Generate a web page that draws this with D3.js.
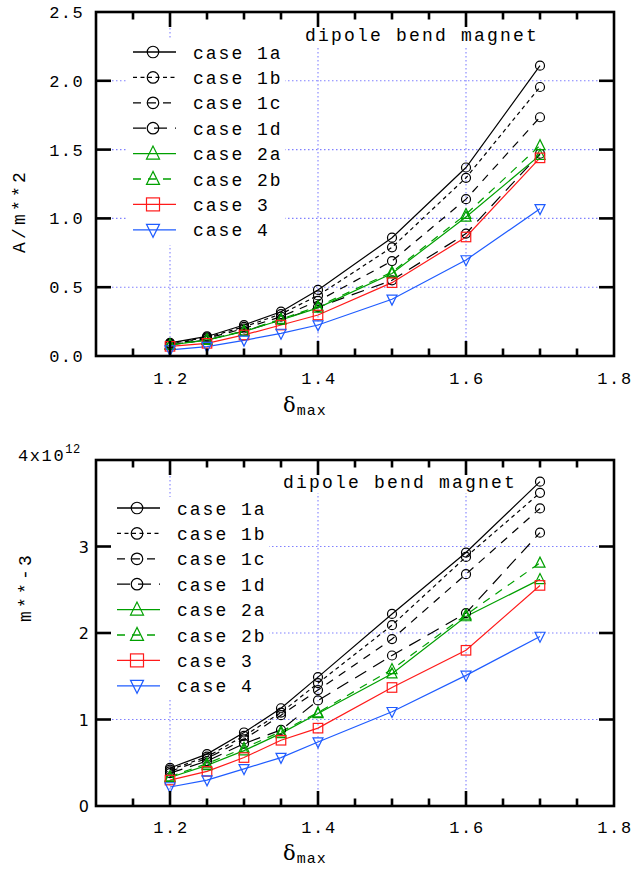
<!DOCTYPE html>
<html><head><meta charset="utf-8">
<script src="https://cdn.jsdelivr.net/npm/d3@7/dist/d3.min.js"></script>
<style>body{margin:0;background:#fff}svg{display:block}</style>
</head><body>
<script>
// ---------- data ----------
const xValues = [1.2, 1.25, 1.3, 1.35, 1.4, 1.5, 1.6, 1.7];
const seriesNames = ["case 1a", "case 1b", "case 1c", "case 1d", "case 2a", "case 2b", "case 3", "case 4"];

// top chart: A/m**2
const topCase1a = [0.095, 0.142, 0.225, 0.322, 0.480, 0.860, 1.370, 2.110];
const topCase1b = [0.090, 0.135, 0.212, 0.305, 0.440, 0.790, 1.295, 1.955];
const topCase1c = [0.086, 0.128, 0.200, 0.286, 0.400, 0.690, 1.140, 1.735];
const topCase1d = [0.080, 0.118, 0.180, 0.262, 0.355, 0.550, 0.890, 1.470];
const topCase2a = [0.080, 0.115, 0.178, 0.262, 0.350, 0.600, 1.010, 1.460];
const topCase2b = [0.082, 0.118, 0.182, 0.268, 0.360, 0.610, 1.030, 1.530];
const topCase3  = [0.070, 0.092, 0.153, 0.225, 0.298, 0.533, 0.865, 1.440];
const topCase4  = [0.044, 0.068, 0.114, 0.164, 0.225, 0.412, 0.698, 1.070];

// bottom chart: m**-3 (units of 1e12)
const bottomCase1a = [0.44, 0.60, 0.85, 1.13, 1.49, 2.22, 2.93, 3.75];
const bottomCase1b = [0.42, 0.57, 0.81, 1.08, 1.42, 2.09, 2.88, 3.62];
const bottomCase1c = [0.40, 0.55, 0.77, 1.05, 1.34, 1.93, 2.68, 3.44];
const bottomCase1d = [0.38, 0.52, 0.72, 0.88, 1.22, 1.74, 2.23, 3.16];
const bottomCase2a = [0.33, 0.47, 0.64, 0.84, 1.07, 1.53, 2.19, 2.62];
const bottomCase2b = [0.34, 0.49, 0.67, 0.86, 1.08, 1.58, 2.21, 2.81];
const bottomCase3  = [0.30, 0.40, 0.56, 0.76, 0.90, 1.37, 1.80, 2.55];
const bottomCase4  = [0.22, 0.30, 0.43, 0.56, 0.74, 1.09, 1.51, 1.96];

const xMajorTicks = [1.2, 1.4, 1.6, 1.8];
const xMajorTickLabels = ["1.2", "1.4", "1.6", "1.8"];
const xMinorTicks = [1.15, 1.25, 1.3, 1.35, 1.45, 1.5, 1.55, 1.65, 1.7, 1.75];
const topYTicks = [0, 0.5, 1.0, 1.5, 2.0, 2.5];
const topYTickLabels = ["0.0", "0.5", "1.0", "1.5", "2.0", "2.5"];
const bottomYTicks = [0, 1, 2, 3, 4];
const bottomYTickLabels = ["0", "1", "2", "3", "4x10"];
const titleText = "dipole bend magnet";
const xLabelMain = "δ", xLabelSub = "max";

// ---------- styles ----------
const BLACK = "#000", GREEN = "#00a000", RED = "#ff1a1a", BLUE = "#1f5cff";
const seriesStyles = [
  {color: BLACK, dash: null,   marker: "circle"},
  {color: BLACK, dash: "4,3.5", marker: "circle"},
  {color: BLACK, dash: "8,7",  marker: "circle"},
  {color: BLACK, dash: "13,8", marker: "circle"},
  {color: GREEN, dash: null,   marker: "triUp"},
  {color: GREEN, dash: "8,7",  marker: "triUp"},
  {color: RED,   dash: null,   marker: "square"},
  {color: BLUE,  dash: null,   marker: "triDown"}
];
const MONO = "'Liberation Mono','DejaVu Sans Mono',monospace";

const W = 634, H = 869;
const svg = d3.select("body").append("svg").attr("width", W).attr("height", H);

function marker(g, type, cx, cy, s, color) {
  const sw = 1.2;
  if (type === "circle") {
    g.append("circle").attr("cx", cx).attr("cy", cy).attr("r", s / 2)
      .attr("fill", "none").attr("stroke", color).attr("stroke-width", sw);
  } else if (type === "square") {
    g.append("rect").attr("x", cx - s / 2).attr("y", cy - s / 2).attr("width", s).attr("height", s)
      .attr("fill", "none").attr("stroke", color).attr("stroke-width", sw);
  } else {
    const up = type === "triUp" ? 1 : -1;
    const hw = s / 2, top = cy - up * s * 0.58, base = cy + up * s * 0.42;
    g.append("path").attr("d", `M${cx},${top}L${cx - hw},${base}L${cx + hw},${base}Z`)
      .attr("fill", "none").attr("stroke", color).attr("stroke-width", sw);
  }
}

function drawChart(cfg) {
  const x = d3.scaleLinear().domain([1.1, 1.8]).range([96, 614]);
  const y = d3.scaleLinear().domain(cfg.yDomain).range([cfg.yBottom, cfg.yTop]);
  const g = svg.append("g");

  // grid
  const grid = g.append("g").attr("stroke", "#8080ff").attr("stroke-width", 1.1).attr("stroke-dasharray", "1.5,2.5");
  xMajorTicks.filter(t => t < 1.8).forEach(t =>
    grid.append("line").attr("x1", x(t)).attr("x2", x(t)).attr("y1", cfg.yTop).attr("y2", cfg.yBottom));
  cfg.yTicks.filter(t => t > cfg.yDomain[0] && t < cfg.yDomain[1]).forEach(t =>
    grid.append("line").attr("x1", 96).attr("x2", 614).attr("y1", y(t)).attr("y2", y(t)));

  // white boxes for legend and title
  g.append("rect").attr("x", cfg.legendBox[0]).attr("y", cfg.legendBox[1])
    .attr("width", cfg.legendBox[2]).attr("height", cfg.legendBox[3]).attr("fill", "#fff");
  g.append("rect").attr("x", cfg.titleBox[0]).attr("y", cfg.titleBox[1])
    .attr("width", cfg.titleBox[2]).attr("height", cfg.titleBox[3]).attr("fill", "#fff");

  // data lines
  const line = d3.line().x((d, i) => x(xValues[i])).y(d => y(d));
  cfg.series.forEach((vals, k) => {
    const st = seriesStyles[k];
    g.append("path").attr("d", line(vals)).attr("fill", "none").attr("stroke", st.color)
      .attr("stroke-width", 1.2).attr("stroke-dasharray", st.dash);
  });
  cfg.series.forEach((vals, k) => {
    const st = seriesStyles[k];
    const s = st.marker === "circle" ? 9 : (st.marker === "square" ? 9.5 : 10);
    vals.forEach((v, i) => marker(g, st.marker, x(xValues[i]), y(v), s, st.color));
  });

  // legend
  seriesNames.forEach((name, k) => {
    const st = seriesStyles[k];
    const ly = cfg.legendY + k * 25.4;
    g.append("line").attr("x1", cfg.legendX).attr("x2", cfg.legendX + 43).attr("y1", ly).attr("y2", ly)
      .attr("stroke", st.color).attr("stroke-width", 1.3).attr("stroke-dasharray", st.dash);
    const s = st.marker === "circle" ? 11.5 : 13;
    marker(g, st.marker, cfg.legendX + 20, ly, s, st.color);
    g.append("text").attr("x", cfg.legendX + 60).attr("y", ly + 6.5).text(name)
      .attr("font-family", MONO).attr("font-size", 18).attr("letter-spacing", 2).attr("fill", "#000");
  });

  // title
  g.append("text").attr("x", cfg.titleX).attr("y", cfg.titleY).text(titleText)
    .attr("font-family", MONO).attr("font-size", 18).attr("letter-spacing", 2.2).attr("fill", "#000");

  // frame + ticks
  const ax = g.append("g").attr("stroke", "#000").attr("stroke-width", 2.6);
  ax.append("rect").attr("x", 96).attr("y", cfg.yTop).attr("width", 518).attr("height", cfg.yBottom - cfg.yTop)
    .attr("fill", "none");
  xMajorTicks.filter(t => t < 1.8).forEach(t => {
    ax.append("line").attr("x1", x(t)).attr("x2", x(t)).attr("y1", cfg.yBottom).attr("y2", cfg.yBottom - 15);
    ax.append("line").attr("x1", x(t)).attr("x2", x(t)).attr("y1", cfg.yTop).attr("y2", cfg.yTop + 15);
  });
  xMinorTicks.forEach(t => {
    ax.append("line").attr("x1", x(t)).attr("x2", x(t)).attr("y1", cfg.yBottom).attr("y2", cfg.yBottom - 7.5);
    ax.append("line").attr("x1", x(t)).attr("x2", x(t)).attr("y1", cfg.yTop).attr("y2", cfg.yTop + 7.5);
  });
  cfg.yTicks.filter(t => t > cfg.yDomain[0] && t < cfg.yDomain[1]).forEach(t => {
    ax.append("line").attr("x1", 96).attr("x2", 111).attr("y1", y(t)).attr("y2", y(t));
    ax.append("line").attr("x1", 614).attr("x2", 599).attr("y1", y(t)).attr("y2", y(t));
  });

  // x tick labels
  xMajorTicks.forEach((t, i) => {
    g.append("text").attr("x", x(t) + 1).attr("y", cfg.xTickLabelY).attr("text-anchor", "middle")
      .text(xMajorTickLabels[i]).attr("font-family", MONO).attr("font-size", 17).attr("letter-spacing", 1.6);
  });
  // y tick labels
  cfg.yTicks.forEach((t, i) => {
    const lab = cfg.yTickLabels[i];
    if (cfg.sup && i === cfg.yTicks.length - 1) {
      const tx = g.append("text").attr("x", 18).attr("y", y(t) + 1).attr("font-family", MONO)
        .attr("font-size", 17).attr("letter-spacing", 1.6);
      tx.append("tspan").text(lab);
      tx.append("tspan").text(cfg.sup).attr("font-size", 12).attr("dy", -8).attr("letter-spacing", 0.5);
    } else {
      g.append("text").attr("x", cfg.yLabelRight).attr("y", y(t) + 6).attr("text-anchor", "end")
        .text(lab).attr("font-family", cfg.yTickFont).attr("font-size", cfg.yTickSize)
        .attr("letter-spacing", cfg.yTickSpacing);
    }
  });

  // axis labels
  const xl = g.append("text").attr("x", 283).attr("y", cfg.xLabelY);
  xl.append("tspan").text(xLabelMain).attr("font-family", "'DejaVu Serif',serif").attr("font-size", 21);
  xl.append("tspan").text(xLabelSub).attr("font-family", MONO).attr("font-size", 15).attr("dy", 2.5)
    .attr("dx", 1).attr("letter-spacing", 1);
  g.append("text").attr("transform", `translate(${cfg.yLabelPos[0]},${cfg.yLabelPos[1]}) rotate(-90)`)
    .attr("text-anchor", "middle").text(cfg.yLabel).attr("font-family", MONO).attr("font-size", 18)
    .attr("letter-spacing", 3.2).attr("dy", 6);
}

drawChart({
  yDomain: [0, 2.5], yTop: 12, yBottom: 356,
  yTicks: topYTicks, yTickLabels: topYTickLabels, yLabelRight: 84,
  yTickFont: MONO, yTickSize: 17, yTickSpacing: 1.4,
  series: [topCase1a, topCase1b, topCase1c, topCase1d, topCase2a, topCase2b, topCase3, topCase4],
  legendX: 133, legendY: 52, legendBox: [127, 40, 158, 205],
  titleX: 305, titleY: 41, titleBox: [298, 22, 245, 26],
  xTickLabelY: 384, xLabelY: 412, yLabel: "A/m**2", yLabelPos: [19, 211]
});
drawChart({
  yDomain: [0, 4], yTop: 460, yBottom: 806,
  yTicks: bottomYTicks, yTickLabels: bottomYTickLabels, yLabelRight: 89, sup: "12",
  yTickFont: "'DejaVu Sans',sans-serif", yTickSize: 16, yTickSpacing: 0,
  series: [bottomCase1a, bottomCase1b, bottomCase1c, bottomCase1d, bottomCase2a, bottomCase2b, bottomCase3, bottomCase4],
  legendX: 117, legendY: 508, legendBox: [112, 497, 157, 203],
  titleX: 283, titleY: 488, titleBox: [276, 468, 245, 25],
  xTickLabelY: 833, xLabelY: 860, yLabel: "m**-3", yLabelPos: [25, 587]
});
</script>
</body></html>
